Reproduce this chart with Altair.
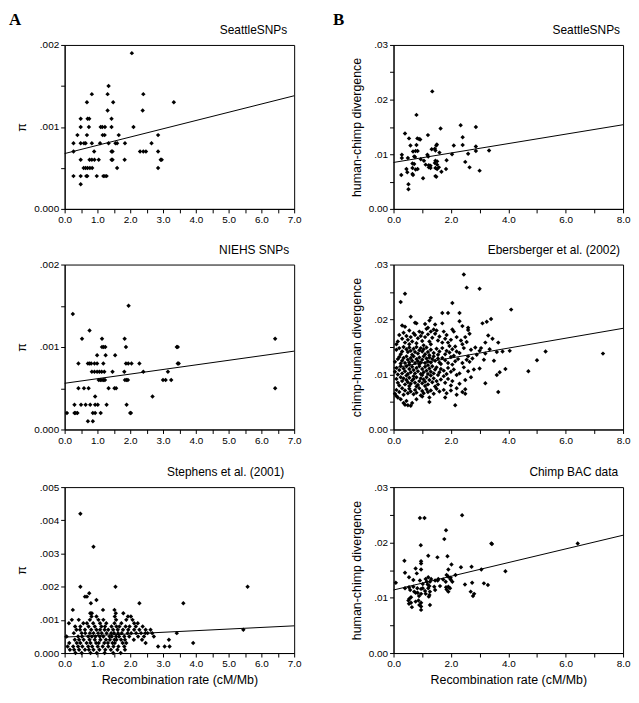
import altair as alt
import pandas as pd

FONT = "Liberation Sans"
SERIF = "Liberation Serif"

# ---------------- data (x = recombination rate, cM/Mb) ----------------
# A1 SeattleSNPs: (x, pi in units of 1e-4)
seattle_pi = [
    (2.05, 19), (1.34, 15), (0.83, 14), (1.31, 14), (2.4, 14), (0.68, 13), (1.48, 13), (3.33, 13),
    (1.31, 12), (2.38, 12), (0.49, 11), (0.7, 11), (0.75, 11), (1.43, 11),
    (0.49, 10), (0.74, 10), (1.1, 10), (1.15, 10), (1.23, 10), (1.43, 10), (2.1, 10),
    (0.39, 9), (0.68, 9), (1.16, 9), (1.22, 9), (1.65, 9), (2.85, 9),
    (0.27, 8), (0.49, 8), (0.59, 8), (0.64, 8), (0.83, 8), (1.08, 8), (1.34, 8), (1.55, 8), (1.6, 8),
    (1.84, 8), (2.65, 8),
    (0.27, 7), (0.9, 7), (1.43, 7), (1.46, 7), (2.3, 7), (2.4, 7), (2.48, 7), (2.85, 7),
    (0.49, 6), (0.76, 6), (0.83, 6), (0.91, 6), (1.04, 6), (1.43, 6), (1.46, 6), (1.83, 6), (2.93, 6), (2.96, 6),
    (0.58, 5), (0.64, 5), (0.7, 5), (0.77, 5), (0.84, 5), (1.6, 5), (2.85, 5),
    (0.27, 4), (0.49, 4), (0.66, 4), (0.69, 4), (0.98, 4), (1.18, 4), (1.23, 4), (1.28, 4),
    (0.49, 3),
]
seattle_pi_line = [6.75, 13.8]  # fitted pi (1e-4) at x = 0 and x = 7

# A2 NIEHS SNPs: (x, pi in units of 1e-4)
niehs_pi = [
    (0.25, 14), (1.95, 15), (0.76, 12), (0.53, 11), (1.14, 11), (1.83, 11), (6.42, 11),
    (1.14, 10), (1.19, 10), (1.24, 10), (1.87, 10), (3.42, 10), (3.45, 10),
    (0.99, 9), (1.25, 9), (1.54, 9),
    (0.42, 8), (0.71, 8), (0.76, 8), (0.81, 8), (0.91, 8), (0.99, 8), (1.18, 8), (1.87, 8), (1.94, 8),
    (2.04, 8), (2.28, 8), (3.45, 8), (3.48, 8),
    (0.83, 7), (0.91, 7), (0.99, 7), (1.06, 7), (1.13, 7), (1.21, 7), (1.46, 7), (1.82, 7), (2.4, 7), (3.15, 7),
    (1.04, 6), (1.09, 6), (1.14, 6), (1.19, 6), (1.23, 6), (1.84, 6), (1.89, 6), (1.93, 6), (3.0, 6),
    (3.08, 6), (3.25, 6),
    (0.42, 5), (0.59, 5), (0.73, 5), (1.34, 5), (1.52, 5), (1.57, 5), (6.42, 5),
    (0.93, 4), (2.68, 4),
    (0.3, 3), (0.5, 3), (0.64, 3), (0.78, 3), (0.93, 3), (1.01, 3), (1.28, 3), (1.89, 3),
    (0.07, 2), (0.3, 2), (0.34, 2), (0.39, 2), (0.86, 2), (0.93, 2), (1.1, 2), (2.0, 2), (2.02, 2),
    (0.71, 1), (0.86, 1),
]
niehs_pi_line = [5.6, 9.5]

# A3 Stephens et al. (2001): pi level (1e-4) -> recombination rates
stephens_rows = {
    42: [0.48], 32: [0.88], 20: [0.48, 1.55, 5.58], 18: [0.75], 17: [0.62, 0.68], 16: [0.97],
    15: [0.8, 2.28, 3.62],
    13: [0.25, 1.17, 1.52], 12: [0.78, 0.83, 1.56, 1.79], 11: [0.82, 0.97, 1.53, 1.93, 2.02],
    10: [0.22, 0.43, 0.77, 1.03, 1.18, 1.57, 1.88, 2.07],
    9: [0.13, 0.57, 0.68, 0.87, 1.08, 1.27, 1.52, 1.73, 2.12, 2.23],
    8: [0.32, 0.48, 0.73, 0.92, 1.12, 1.23, 1.43, 1.58, 1.67, 1.86, 1.98, 2.17, 2.38],
    7: [0.36, 0.47, 0.62, 0.81, 0.97, 1.08, 1.22, 1.33, 1.48, 1.62, 1.78, 1.94, 2.12, 2.28, 2.47, 2.62, 5.45],
    6: [0.28, 0.52, 0.63, 0.77, 0.88, 1.02, 1.13, 1.28, 1.42, 1.51, 1.63, 1.74, 1.92, 2.03, 2.18, 2.33,
        2.46, 2.53, 2.67, 3.42],
    5: [0.06, 0.41, 0.53, 0.72, 0.83, 0.94, 1.07, 1.18, 1.37, 1.44, 1.57, 1.66, 1.82, 1.97, 2.24, 2.42, 2.72],
    4: [0.31, 0.44, 0.58, 0.76, 0.92, 1.09, 1.26, 1.38, 1.52, 1.58, 1.72, 1.84, 2.11, 2.36, 3.18],
    3: [0.14, 0.37, 0.48, 0.67, 0.79, 0.96, 1.04, 1.21, 1.32, 1.46, 1.53, 1.77, 1.88, 2.47, 3.92],
    2: [0.09, 0.26, 0.41, 0.54, 0.72, 0.84, 1.01, 1.16, 1.33, 1.49, 1.64, 1.82, 2.85, 3.05, 3.2],
    1: [0.16, 0.29, 0.44, 0.62, 0.74, 0.88, 1.06, 1.24, 1.41, 1.61, 1.84],
    0: [0.33, 0.52, 0.79, 0.98, 1.22, 1.48, 1.71],
}
stephens_pi_line = [4.8, 8.2]

# B1 SeattleSNPs: (x, human-chimp divergence in units of 1e-3)
seattle_div = [
    (1.35, 21.5), (0.8, 17.2), (1.64, 14.7), (2.34, 15.3), (2.87, 15.0), (0.4, 13.8), (1.2, 13.5), (2.41, 13.1),
    (0.54, 12.9), (0.83, 12.9), (0.89, 12.8), (0.93, 12.7),
    (0.59, 11.6), (0.8, 11.7), (1.49, 11.6), (1.51, 11.8), (2.1, 11.6), (2.41, 11.7), (2.87, 11.4), (3.33, 10.7),
    (0.68, 10.5), (0.77, 10.6), (0.84, 10.6), (1.33, 10.9), (1.44, 11.0), (1.46, 10.7), (1.6, 10.3), (2.04, 10.0),
    (2.6, 10.1), (2.87, 10.6),
    (0.29, 9.9), (0.29, 9.3), (0.72, 9.6), (0.75, 9.5), (0.5, 9.3), (1.18, 9.9), (1.21, 9.6), (0.95, 9.1),
    (1.06, 8.8), (1.46, 8.8), (1.52, 8.7), (1.85, 8.9),
    (0.66, 8.3), (0.72, 8.2), (1.12, 8.1), (1.23, 8.0), (1.29, 7.9), (1.52, 8.1), (1.44, 8.4), (2.5, 8.6), (1.58, 7.6),
    (0.45, 7.3), (0.66, 7.5), (0.77, 7.2), (0.84, 7.3), (1.23, 7.6), (1.29, 7.5), (1.46, 7.5), (1.52, 7.3),
    (1.83, 7.3), (2.65, 7.6),
    (0.48, 6.7), (0.66, 6.4), (0.68, 6.2), (1.67, 6.8), (3.0, 7.0),
    (0.27, 6.2), (1.46, 6.0), (1.49, 5.9), (1.03, 5.6),
    (0.52, 4.5), (0.52, 3.6),
]
seattle_div_line = [8.5, 15.4]

# B2 Ebersberger et al. (2002): (x, chimp-human divergence in units of 1e-3)
eber_div = [
    (2.45, 28.2), (0.4, 24.7), (0.25, 23.2), (2.55, 25.8), (3.0, 25.6), (4.1, 21.8), (2.05, 23.0),
    (7.3, 13.8), (5.3, 14.2), (5.0, 12.6), (4.7, 10.6), (3.9, 11.0), (3.65, 6.8), (3.2, 8.4), (3.6, 9.9),
    (3.7, 10.4), (2.15, 4.4), (0.6, 4.3), (0.4, 4.5),
    (0.6, 20.5), (1.7, 21.2), (1.9, 21.2), (2.3, 21.2), (1.3, 20.3), (1.25, 19.8), (3.4, 20.1), (3.25, 19.6),
    (3.1, 19.3),
    (0.3, 18.9), (0.4, 18.7), (0.75, 19.4), (0.8, 19.3), (1.1, 19.2), (1.2, 18.5), (1.45, 19.1), (1.7, 19.3),
    (2.3, 19.7), (2.4, 18.8), (2.05, 18.2), (2.6, 18.5),
    (0.2, 17.2), (0.55, 18.0), (0.9, 17.8), (1.15, 18.3), (1.3, 17.8), (1.4, 18.2), (1.5, 18.0), (1.75, 17.8),
    (1.85, 17.2), (2.1, 17.8), (2.6, 18.1), (2.65, 17.4), (3.3, 17.1), (0.35, 17.6), (0.7, 17.5), (1.0, 17.6),
    (0.1, 15.5), (0.15, 16.0), (0.3, 16.5), (0.45, 17.0), (0.5, 16.3), (0.6, 16.8), (0.65, 16.0), (0.75, 17.2),
    (0.85, 16.6), (0.95, 17.0), (1.0, 16.1), (1.1, 16.8), (1.2, 17.3), (1.25, 16.0), (1.35, 16.7), (1.45, 17.4),
    (1.55, 16.2), (1.6, 16.9), (1.8, 16.5), (1.9, 15.8), (2.0, 16.3), (2.2, 16.8), (2.35, 16.2), (2.5, 16.8),
    (2.55, 15.9), (3.45, 16.5), (3.65, 15.8), (3.2, 15.8), (0.4, 15.8), (0.55, 15.5), (0.8, 15.7), (1.05, 15.3),
    (1.3, 15.5), (1.7, 15.8), (1.95, 15.2), (2.15, 15.1), (2.4, 15.5),
    (0.1, 14.5), (0.2, 14.8), (0.3, 14.2), (0.35, 15.0), (0.45, 14.6), (0.5, 14.1), (0.55, 14.9), (0.6, 14.3),
    (0.7, 14.7), (0.75, 14.1), (0.8, 15.0), (0.9, 14.4), (0.95, 14.8), (1.0, 14.2), (1.05, 14.6), (1.15, 14.9),
    (1.2, 14.1), (1.3, 14.5), (1.4, 13.9), (1.5, 14.7), (1.6, 14.2), (1.7, 14.8), (1.85, 14.3), (1.95, 14.0),
    (2.05, 14.6), (2.2, 14.2), (2.3, 13.9), (2.45, 14.8), (2.7, 14.5), (2.85, 14.9), (3.0, 14.3), (3.05, 14.8),
    (3.35, 14.6), (3.6, 14.1), (3.8, 14.2), (4.05, 14.3), (0.25, 13.7), (0.65, 13.6), (0.85, 13.8), (1.1, 13.7),
    (1.25, 13.5), (1.55, 13.6), (1.8, 13.7), (2.1, 13.4), (2.6, 13.3), (2.9, 13.6), (3.2, 13.8),
    (0.05, 12.3), (0.15, 12.8), (0.2, 13.2), (0.3, 12.5), (0.35, 13.0), (0.4, 12.1), (0.45, 13.3), (0.5, 12.7),
    (0.55, 12.2), (0.6, 13.0), (0.65, 12.5), (0.7, 13.3), (0.75, 12.1), (0.8, 12.8), (0.85, 12.4), (0.9, 13.1),
    (0.95, 12.2), (1.0, 12.7), (1.05, 13.3), (1.1, 12.1), (1.15, 12.9), (1.2, 12.4), (1.25, 13.1), (1.3, 12.2),
    (1.35, 12.8), (1.4, 13.3), (1.45, 12.5), (1.55, 12.9), (1.6, 12.2), (1.7, 13.0), (1.8, 12.6), (1.9, 12.1),
    (2.0, 13.2), (2.15, 12.4), (2.25, 12.8), (2.4, 12.1), (2.55, 12.7), (2.65, 12.3), (2.75, 12.9), (3.15, 12.7),
    (3.5, 12.5), (0.25, 12.0), (0.55, 11.8), (0.9, 11.9), (1.2, 11.7), (1.65, 11.9), (2.05, 11.8),
    (0.05, 10.5), (0.1, 11.2), (0.2, 10.8), (0.25, 11.5), (0.3, 10.2), (0.35, 11.1), (0.4, 10.6), (0.45, 11.5),
    (0.5, 10.1), (0.55, 11.0), (0.6, 10.4), (0.65, 11.4), (0.7, 10.8), (0.75, 10.2), (0.8, 11.2), (0.85, 10.6),
    (0.9, 11.5), (0.95, 10.1), (1.0, 11.0), (1.05, 10.4), (1.1, 11.4), (1.15, 10.7), (1.2, 10.1), (1.25, 11.1),
    (1.3, 10.5), (1.35, 11.5), (1.4, 10.2), (1.45, 10.9), (1.5, 11.3), (1.6, 10.4), (1.65, 11.0), (1.75, 10.7),
    (1.85, 10.1), (1.9, 11.2), (2.0, 10.5), (2.1, 10.9), (2.3, 10.2), (2.45, 11.3), (2.6, 10.6), (2.8, 10.9),
    (3.0, 11.1), (0.15, 10.0), (0.45, 9.8), (0.7, 9.7), (1.0, 9.9), (1.3, 9.8), (1.55, 9.9), (1.75, 9.7),
    (2.2, 9.9),
    (0.1, 9.2), (0.15, 8.5), (0.25, 9.5), (0.3, 8.8), (0.35, 9.3), (0.4, 8.2), (0.45, 9.0), (0.5, 8.6),
    (0.55, 9.4), (0.6, 8.3), (0.65, 8.9), (0.7, 9.2), (0.75, 8.5), (0.8, 9.5), (0.85, 8.1), (0.9, 8.8),
    (0.95, 9.3), (1.0, 8.4), (1.05, 9.1), (1.1, 8.7), (1.15, 9.5), (1.2, 8.2), (1.25, 9.0), (1.35, 8.6),
    (1.4, 9.3), (1.5, 8.8), (1.55, 8.2), (1.65, 9.1), (1.8, 8.5), (1.9, 9.2), (2.05, 8.8), (2.3, 8.3),
    (2.5, 9.0), (2.7, 9.5), (0.2, 8.0), (0.55, 7.9), (0.8, 7.8), (1.1, 7.9), (1.45, 7.8), (2.0, 8.0),
    (0.05, 6.5), (0.1, 7.2), (0.2, 6.8), (0.3, 7.5), (0.35, 6.3), (0.4, 7.1), (0.5, 6.6), (0.55, 7.4),
    (0.6, 6.9), (0.7, 6.4), (0.75, 7.2), (0.8, 6.7), (0.9, 7.5), (0.95, 6.2), (1.0, 7.0), (1.05, 6.6),
    (1.15, 7.3), (1.2, 6.8), (1.3, 7.1), (1.4, 6.5), (1.5, 7.4), (1.6, 6.9), (1.75, 7.2), (1.85, 6.6),
    (2.0, 7.1), (2.2, 7.5), (2.4, 6.8), (2.5, 7.3), (1.0, 6.0), (1.25, 5.8), (1.8, 5.8), (0.15, 5.8),
    (0.1, 6.1), (2.2, 6.3),
    (0.35, 4.8), (0.45, 5.2), (0.5, 4.4), (0.65, 4.8), (0.8, 5.5), (1.25, 5.0), (2.5, 6.5), (0.25, 5.5),
]
eber_div_line = [11.2, 18.4]

# B3 Chimp BAC data: (x, human-chimp divergence in units of 1e-3)
bac_div = [
    (0.92, 24.4), (1.08, 24.4), (2.39, 24.9), (1.83, 22.2), (1.77, 20.6),
    (0.95, 19.5), (3.41, 19.8), (3.43, 19.7), (6.42, 19.8),
    (1.21, 17.6), (1.53, 17.3), (1.88, 17.5), (0.38, 16.7), (0.96, 16.6), (0.96, 16.2),
    (2.02, 16.0), (2.35, 15.5), (2.72, 15.6), (0.77, 15.3), (0.96, 15.1), (1.91, 15.1), (3.06, 15.1), (3.9, 14.8),
    (0.4, 14.5), (0.81, 14.4), (0.54, 13.7), (1.85, 14.1), (1.91, 13.8), (2.16, 14.1), (1.12, 13.4), (1.21, 13.7),
    (1.31, 13.4), (1.56, 13.4), (1.73, 13.3), (1.99, 13.6), (0.69, 13.2), (0.08, 12.7), (0.92, 13.1), (1.16, 12.9),
    (1.27, 12.9), (1.45, 13.1), (1.54, 13.1), (1.82, 12.9), (2.05, 12.9), (1.99, 13.3),
    (1.02, 12.5), (1.19, 12.4), (1.25, 12.1), (1.62, 12.1), (2.49, 12.4), (2.74, 12.7), (3.15, 12.6), (3.29, 12.3),
    (0.4, 11.7), (0.54, 11.9), (0.69, 12.0), (0.83, 11.7), (0.96, 11.6), (1.02, 11.7), (1.21, 11.7), (1.42, 12.0),
    (1.83, 11.9), (1.91, 12.0), (1.97, 11.7), (0.58, 11.4), (0.72, 11.1), (1.1, 11.2), (1.27, 11.1), (1.45, 11.4),
    (1.85, 11.5), (1.91, 11.1), (2.69, 11.1),
    (0.77, 10.9), (0.84, 10.9), (0.96, 10.7), (1.12, 10.7), (1.25, 10.5), (0.89, 10.3), (1.23, 10.2),
    (2.77, 10.3), (2.81, 10.7), (0.61, 10.1), (0.55, 9.8), (0.52, 9.5),
    (0.54, 8.9), (0.61, 9.1), (0.77, 9.3), (0.87, 9.5), (0.96, 9.1), (0.9, 8.7), (0.96, 8.4), (1.27, 8.7),
    (0.64, 8.3), (0.96, 7.8),
]
bac_div_line = [11.4, 21.3]

PI_UNIT = 1e-4
DIV_UNIT = 1e-3

W = 231


def pairs_df(pairs, unit):
    return pd.DataFrame({"x": [p[0] for p in pairs], "y": [p[1] * unit for p in pairs]})


def rows_df(rows, unit):
    xs, ys = [], []
    for level, xlist in rows.items():
        for xv in xlist:
            xs.append(xv)
            ys.append(level * unit)
    return pd.DataFrame({"x": xs, "y": ys})


def ticks(maxv, step):
    n = int(round(maxv / step))
    return [round(i * step, 6) for i in range(n + 1)]


def panel(df, line_vals, unit, xmax, xstep, xlab, ymax, ystep, ylab, ydec, ytitle,
          title, title_dx, letter, letter_x, letter_top, height, xtitle=None):
    x_expr = (f"abs(datum.value/{xlab} - round(datum.value/{xlab})) < 1e-6 ? "
              f"format(datum.value, '.1f') : ''")
    y_expr = (f"abs(datum.value/{ylab} - round(datum.value/{ylab})) < 1e-6 ? "
              f"(datum.value == 0 ? format(0, '.{ydec}f') : "
              f"substring(format(datum.value, '.{ydec}f'), 1)) : ''")
    common = dict(grid=False, tickSize=4, tickColor="black", domainColor="black",
                  labelFont=FONT, labelFontSize=10, labelColor="black", labelPadding=2,
                  labelFlush=False, labelOverlap=False,
                  titleFont=FONT, titleFontSize=12.5, titleFontWeight="normal", titleColor="black")
    x_axis = alt.Axis(values=ticks(xmax, xstep), labelExpr=x_expr, title=xtitle, titlePadding=5, **common)
    y_axis = alt.Axis(values=ticks(ymax, ystep), labelExpr=y_expr, title=ytitle, titlePadding=5, **common)
    X = alt.X("x:Q", axis=x_axis, scale=alt.Scale(domain=[0, xmax], nice=False, zero=True))
    Y = alt.Y("y:Q", axis=y_axis, scale=alt.Scale(domain=[0, ymax], nice=False, zero=True))

    pts = alt.Chart(df).mark_point(shape="diamond", filled=True, size=20, color="black",
                                   opacity=1).encode(x=X, y=Y)
    line_df = pd.DataFrame({"x": [0, xmax], "y": [v * unit for v in line_vals]})
    line = alt.Chart(line_df).mark_line(color="black", strokeWidth=1).encode(x=X, y=Y)
    ttl = alt.Chart(pd.DataFrame({"t": [title]})).mark_text(
        font=FONT, fontSize=12, align="right", baseline="alphabetic", color="black",
    ).encode(text="t:N", x=alt.value(W + title_dx), y=alt.value(-11))
    lt = alt.Chart(pd.DataFrame({"t": [letter]})).mark_text(
        font=SERIF, fontSize=17, fontWeight="bold", align="left", baseline="top",
        color="black", opacity=1 if letter_top else 0,
    ).encode(text="t:N", x=alt.value(letter_x), y=alt.value(-33 if letter_top else 20))
    return alt.layer(pts, line, ttl, lt).properties(width=W, height=height)


XT = "Recombination rate (cM/Mb)"
a1 = panel(pairs_df(seattle_pi, PI_UNIT), seattle_pi_line, PI_UNIT, 7, 0.5, 1, 0.002, 0.0005, 0.001, 3,
           "π", "SeattleSNPs", -7, "A", -56, True, 165)
a2 = panel(pairs_df(niehs_pi, PI_UNIT), niehs_pi_line, PI_UNIT, 7, 0.5, 1, 0.002, 0.0005, 0.001, 3,
           "π", "NIEHS SNPs", -5, "A", -56, False, 166)
a3 = panel(rows_df(stephens_rows, PI_UNIT), stephens_pi_line, PI_UNIT, 7, 0.5, 1, 0.005, 0.001, 0.001, 3,
           "π", "Stephens et al. (2001)", -10, "A", -56, False, 167, XT)
b1 = panel(pairs_df(seattle_div, DIV_UNIT), seattle_div_line, DIV_UNIT, 8, 1, 2, 0.03, 0.005, 0.01, 2,
           "human-chimp divergence", "SeattleSNPs", -3, "B", -61, True, 165)
b2 = panel(pairs_df(eber_div, DIV_UNIT), eber_div_line, DIV_UNIT, 8, 1, 2, 0.03, 0.005, 0.01, 2,
           "chimp-human divergence", "Ebersberger et al. (2002)", -3, "B", -61, False, 166)
b3 = panel(pairs_df(bac_div, DIV_UNIT), bac_div_line, DIV_UNIT, 8, 1, 2, 0.03, 0.005, 0.01, 2,
           "human-chimp divergence", "Chimp BAC data", -5, "B", -61, False, 167, XT)

col_a = alt.vconcat(alt.vconcat(a1, a2, spacing=17), a3, spacing=19)
col_b = alt.vconcat(alt.vconcat(b1, b2, spacing=17), b3, spacing=19)
chart = alt.hconcat(col_a, col_b, spacing=30).properties(padding=0, background="white").configure_view(
    stroke="black", strokeWidth=1
)

chart.save("out.html", embed_options={"renderer": "svg", "actions": False})
